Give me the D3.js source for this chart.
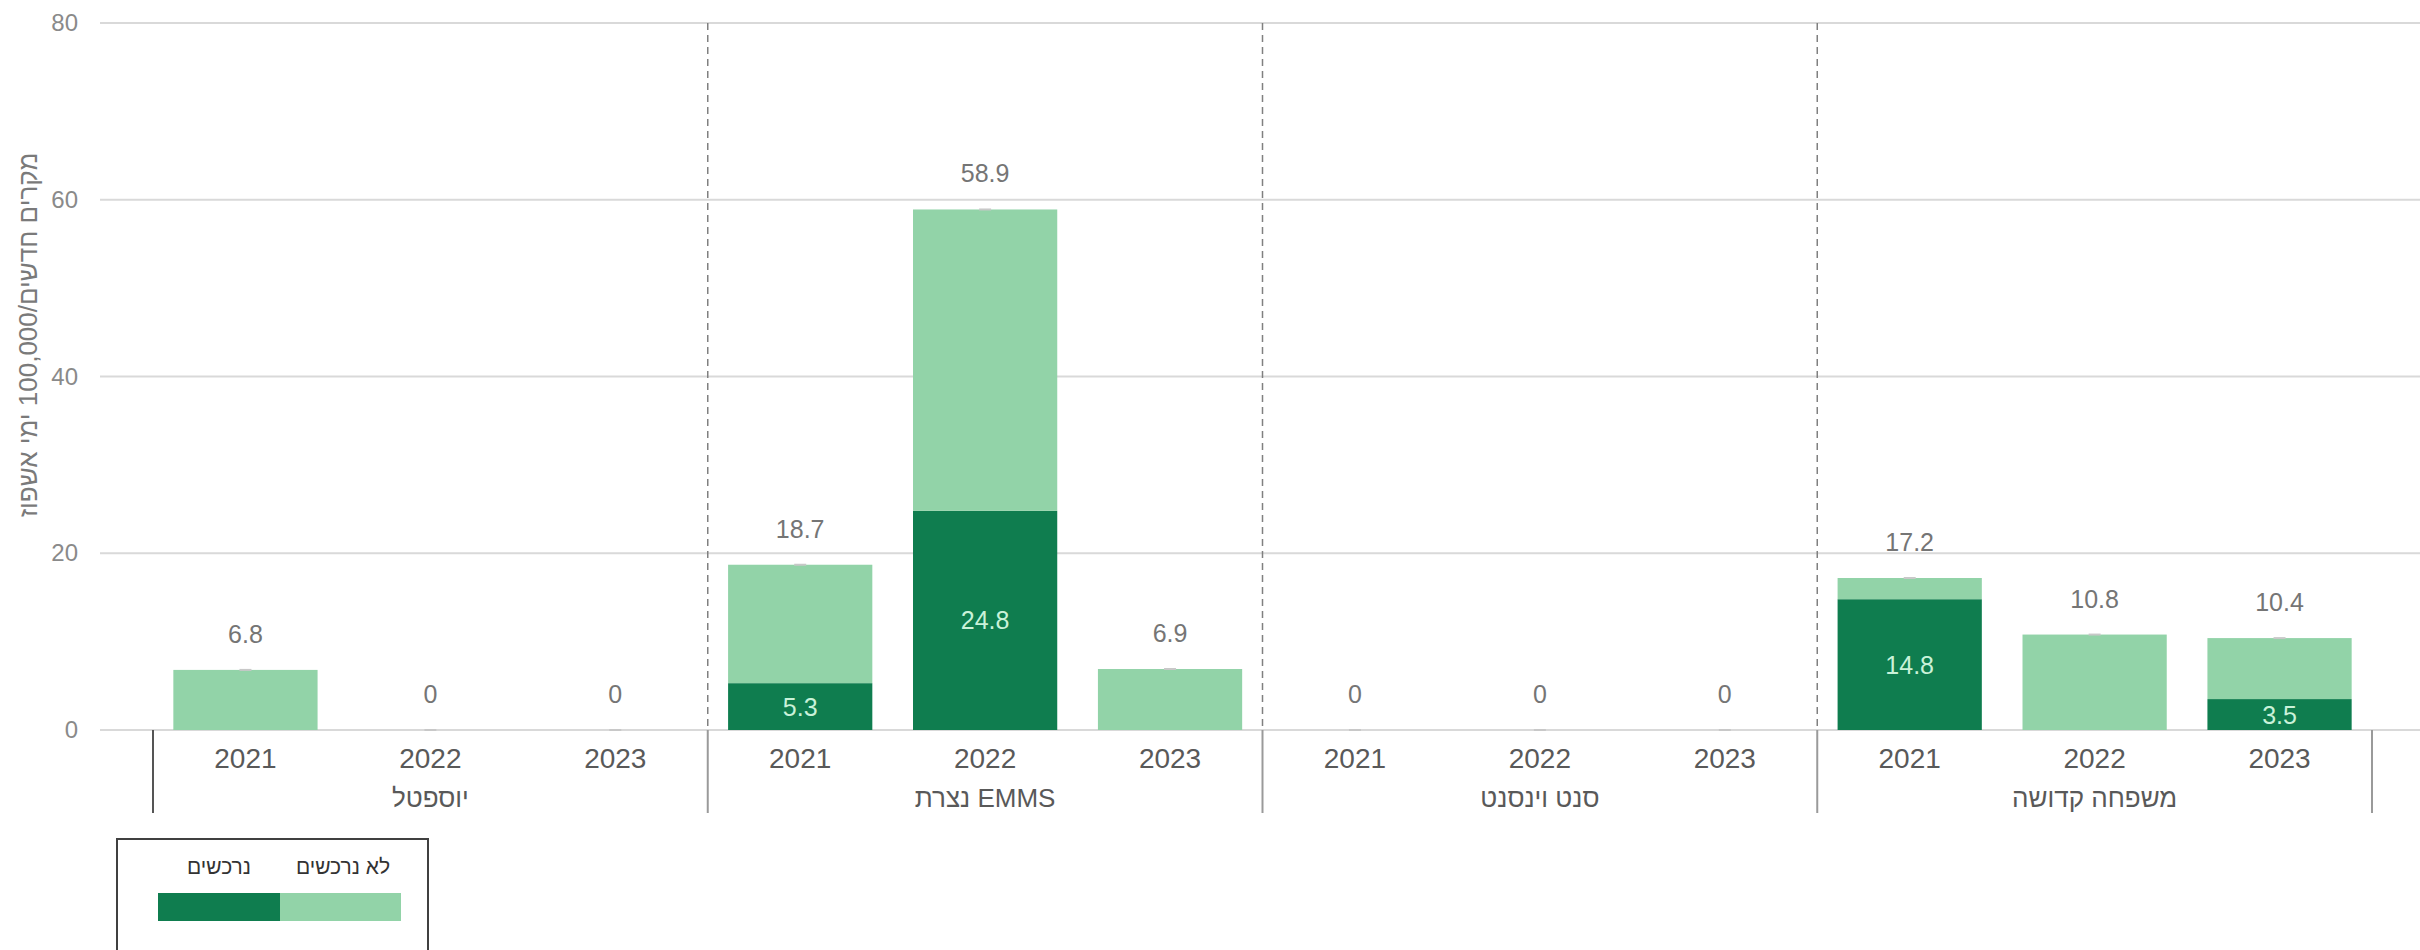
<!DOCTYPE html>
<html lang="he">
<head>
<meta charset="utf-8">
<script src="https://cdn.jsdelivr.net/npm/d3@7"></script>
<style>
  html, body { margin: 0; padding: 0; background: #fff; }
  svg { display: block; font-family: "Liberation Sans", Arial, "DejaVu Sans", sans-serif; }
</style>
</head>
<body>
<svg id="chart" width="2420" height="950"></svg>
<script>
// ---- data ----
const hospitals = ["יוספטל", "נצרת EMMS", "סנט וינסנט", "משפחה קדושה"];
const years = ["2021", "2022", "2023"];
// dark series: נרכשים (acquired), by hospital then year
const acquired = [
  [0, 0, 0],
  [5.3, 24.8, 0],
  [0, 0, 0],
  [14.8, 0, 3.5]
];
// light series: לא נרכשים (not acquired)
const notAcquired = [
  [6.8, 0, 0],
  [13.4, 34.1, 6.9],
  [0, 0, 0],
  [2.4, 10.8, 6.9]
];
// total labels as printed
const totals = [
  [6.8, 0, 0],
  [18.7, 58.9, 6.9],
  [0, 0, 0],
  [17.2, 10.8, 10.4]
];
const yTicks = [0, 20, 40, 60, 80];
const seriesNames = ["לא נרכשים", "נרכשים"];
const yTitle = "מקרים חדשים/100,000 ימי אשפוז";

// ---- styles ----
const colLight = "#92D3A8";
const colDark = "#0F7D4F";
const textGray = "#595959";

const svg = d3.select("#chart");

const y = d3.scaleLinear().domain([0, 80]).range([730, 23]);
const gx = d3.scaleBand().domain(hospitals).range([153, 2372]).padding(0);
const yx = d3.scaleBand().domain(years).range([0, gx.bandwidth()]).paddingInner(0.22).paddingOuter(0.11);

// gridlines
const grid = svg.append("g");
grid.selectAll("line").data(yTicks).join("line")
  .attr("x1", 100).attr("x2", 2420)
  .attr("y1", d => y(d)).attr("y2", d => y(d))
  .attr("stroke", "#d9d9d9").attr("stroke-width", 2);

// y axis labels via d3 axis
const yAxis = svg.append("g").attr("transform", "translate(90,0)")
  .call(d3.axisLeft(y).tickValues(yTicks).tickSize(0).tickPadding(12));
yAxis.select(".domain").remove();
yAxis.selectAll("text").attr("font-size", 24).attr("fill", "#8a8a8a")
  .attr("font-family", "Liberation Sans, Arial, sans-serif");

// y title
svg.append("text")
  .attr("transform", `translate(28,335) rotate(-90)`)
  .attr("text-anchor", "middle")
  .attr("dominant-baseline", "central")
  .style("direction", "rtl")
  .attr("font-size", 26).attr("fill", "#7a7a7a")
  .text(yTitle);

// dashed separators
const seps = hospitals.slice(1);
svg.append("g").selectAll("line").data(seps).join("line")
  .attr("x1", d => gx(d)).attr("x2", d => gx(d))
  .attr("y1", y(80)).attr("y2", y(0))
  .attr("stroke", "#808080").attr("stroke-width", 1.5)
  .attr("stroke-dasharray", "7,5");

// bars
const flat = [];
hospitals.forEach((h, i) => years.forEach((yr, j) => {
  flat.push({ h, yr, a: acquired[i][j], n: notAcquired[i][j], t: totals[i][j] });
}));

const barG = svg.append("g");
const xPos = d => gx(d.h) + yx(d.yr);
barG.selectAll("rect.dark").data(flat.filter(d => d.a > 0)).join("rect")
  .attr("class", "dark")
  .attr("x", xPos).attr("width", yx.bandwidth())
  .attr("y", d => y(d.a)).attr("height", d => y(0) - y(d.a))
  .attr("fill", colDark);
barG.selectAll("rect.light").data(flat.filter(d => d.n > 0)).join("rect")
  .attr("class", "light")
  .attr("x", xPos).attr("width", yx.bandwidth())
  .attr("y", d => y(d.a + d.n)).attr("height", d => y(d.a) - y(d.a + d.n))
  .attr("fill", colLight);

// small total markers
barG.selectAll("line.tm").data(flat).join("line")
  .attr("class", "tm")
  .attr("x1", d => xPos(d) + yx.bandwidth() / 2 - 6)
  .attr("x2", d => xPos(d) + yx.bandwidth() / 2 + 6)
  .attr("y1", d => y(d.t)).attr("y2", d => y(d.t))
  .attr("stroke", "#c8c8c8").attr("stroke-width", 2);

// total labels
barG.selectAll("text.tot").data(flat).join("text")
  .attr("class", "tot")
  .attr("x", d => xPos(d) + yx.bandwidth() / 2)
  .attr("y", d => y(d.t) - 36)
  .attr("text-anchor", "middle").attr("dominant-baseline", "central")
  .attr("font-size", 25).attr("fill", "#757575")
  .text(d => d.t);

// inner dark labels
barG.selectAll("text.in").data(flat.filter(d => d.a > 0)).join("text")
  .attr("class", "in")
  .attr("x", d => xPos(d) + yx.bandwidth() / 2)
  .attr("y", d => (y(0) + y(d.a)) / 2)
  .attr("text-anchor", "middle").attr("dominant-baseline", "central")
  .attr("font-size", 25).attr("fill", "#C9F2D9")
  .text(d => d.a);

// category axis: year labels
const xa = svg.append("g");
xa.selectAll("text.yr").data(flat).join("text")
  .attr("class", "yr")
  .attr("x", d => xPos(d) + yx.bandwidth() / 2)
  .attr("y", 758)
  .attr("text-anchor", "middle").attr("dominant-baseline", "central")
  .attr("font-size", 28).attr("fill", textGray)
  .text(d => d.yr);
// hospital labels
xa.selectAll("text.h").data(hospitals).join("text")
  .attr("class", "h")
  .attr("x", d => gx(d) + gx.bandwidth() / 2)
  .attr("y", 798)
  .attr("text-anchor", "middle").attr("dominant-baseline", "central")
  .attr("font-size", 26).attr("fill", textGray)
  .text(d => d);
// group ticks
const bounds = hospitals.map(h => gx(h)).concat([gx.range()[1]]);
xa.selectAll("line.gt").data(bounds).join("line")
  .attr("class", "gt")
  .attr("x1", d => d).attr("x2", d => d)
  .attr("y1", y(0)).attr("y2", 813)
  .attr("stroke", (d, i) => i === 0 ? "#555" : "#9a9a9a").attr("stroke-width", 2);

// legend
const lg = svg.append("g");
lg.append("rect").attr("x", 117).attr("y", 839).attr("width", 311).attr("height", 130)
  .attr("fill", "#fff").attr("stroke", "#404040").attr("stroke-width", 2);
const legItems = [
  { name: seriesNames[1], color: colDark, x: 158, w: 122 },
  { name: seriesNames[0], color: colLight, x: 280, w: 121 }
];
lg.selectAll("rect.sw").data(legItems).join("rect")
  .attr("class", "sw")
  .attr("x", d => d.x).attr("y", 893).attr("width", d => d.w).attr("height", 28)
  .attr("fill", d => d.color);
lg.selectAll("text.lt").data(legItems).join("text")
  .attr("class", "lt")
  .attr("x", (d, i) => i === 0 ? 219 : 343)
  .attr("y", 866)
  .attr("text-anchor", "middle").attr("dominant-baseline", "central")
  .attr("font-size", 21).attr("fill", "#333")
  .text(d => d.name);
</script>
</body>
</html>
